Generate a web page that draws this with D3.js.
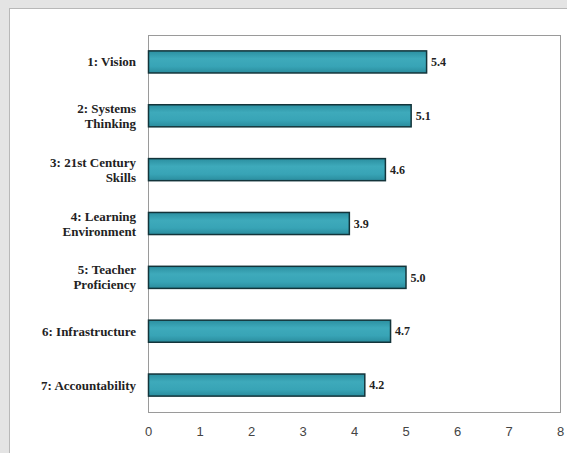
<!DOCTYPE html>
<html>
<head>
<meta charset="utf-8">
<script src="https://cdn.jsdelivr.net/npm/d3@7"></script>
<style>
  html, body { margin: 0; padding: 0; background: #e4e4e4; }
  svg { display: block; }
</style>
</head>
<body>
<svg id="chart" width="567" height="453"></svg>
<script>
// Category labels (each entry is the list of lines for that label)
const categories = [
  ["1: Vision"],
  ["2: Systems", "Thinking"],
  ["3: 21st Century", "Skills"],
  ["4: Learning", "Environment"],
  ["5: Teacher", "Proficiency"],
  ["6: Infrastructure"],
  ["7: Accountability"]
];
const values = [5.4, 5.1, 4.6, 3.9, 5.0, 4.7, 4.2];
const xTicks = [0, 1, 2, 3, 4, 5, 6, 7, 8];

const svg = d3.select("#chart");
const W = 567, H = 453;
const plot = { left: 148, top: 35, right: 560, bottom: 412 };

// Background panel
svg.append("rect").attr("width", W).attr("height", H).attr("fill", "#e4e4e4");
svg.append("rect")
  .attr("x", 9.5).attr("y", 8.5).attr("width", W).attr("height", H)
  .attr("fill", "#ffffff").attr("stroke", "#b8b8b8").attr("stroke-width", 1);

const keys = categories.map((c, i) => String(i));
const x = d3.scaleLinear().domain([0, 8]).range([plot.left, plot.right]);
const y = d3.scaleBand().domain(keys).range([plot.top, plot.bottom]).paddingInner(0.59).paddingOuter(0.295);

// Bar fill gradient
const defs = svg.append("defs");
const grad = defs.append("linearGradient").attr("id", "barFill")
  .attr("x1", 0).attr("y1", 0).attr("x2", 0).attr("y2", 1);
grad.append("stop").attr("offset", "0%").attr("stop-color", "#2b8fa0");
grad.append("stop").attr("offset", "35%").attr("stop-color", "#3eaabb");
grad.append("stop").attr("offset", "70%").attr("stop-color", "#38a4b6");
grad.append("stop").attr("offset", "100%").attr("stop-color", "#2a8c9d");

// Plot frame
svg.append("rect")
  .attr("x", plot.left + 0.5).attr("y", plot.top + 0.5)
  .attr("width", plot.right - plot.left).attr("height", plot.bottom - plot.top)
  .attr("fill", "#ffffff").attr("stroke", "#9a9a9a").attr("stroke-width", 1);

// Bars
svg.append("g").selectAll("rect")
  .data(values)
  .join("rect")
  .attr("x", x(0) + 0.5)
  .attr("y", (d, i) => y(String(i)))
  .attr("width", d => x(d) - x(0))
  .attr("height", y.bandwidth())
  .attr("fill", "url(#barFill)")
  .attr("stroke", "#13343a")
  .attr("stroke-width", 1.5);

// Value labels
svg.append("g").selectAll("text")
  .data(values)
  .join("text")
  .attr("x", d => x(d) + 5)
  .attr("y", (d, i) => y(String(i)) + y.bandwidth() / 2)
  .attr("dy", "0.35em")
  .attr("font-family", "'Liberation Serif', 'Times New Roman', serif")
  .attr("font-weight", "bold")
  .attr("font-size", 12)
  .attr("fill", "#222")
  .text(d => d.toFixed(1));

// Category labels
const lineH = 15;
const catG = svg.append("g");
categories.forEach((lines, i) => {
  const cy = y(String(i)) + y.bandwidth() / 2;
  const t = catG.append("text")
    .attr("text-anchor", "end")
    .attr("font-family", "'Liberation Serif', 'Times New Roman', serif")
    .attr("font-weight", "bold")
    .attr("font-size", 13)
    .attr("fill", "#222");
  lines.forEach((ln, k) => {
    t.append("tspan")
      .attr("x", 136)
      .attr("y", cy + (k - (lines.length - 1) / 2) * lineH)
      .attr("dy", "0.35em")
      .text(ln);
  });
});

// X axis
const xAxis = d3.axisBottom(x).tickValues(xTicks).tickSize(0).tickPadding(14).tickFormat(d3.format("d"));
const ax = svg.append("g").attr("transform", `translate(0,${plot.bottom + 0.5})`).call(xAxis);
ax.select(".domain").remove();
ax.selectAll("text")
  .attr("font-family", "'Liberation Sans', Arial, sans-serif")
  .attr("font-size", 13)
  .attr("fill", "#444");
</script>
</body>
</html>
